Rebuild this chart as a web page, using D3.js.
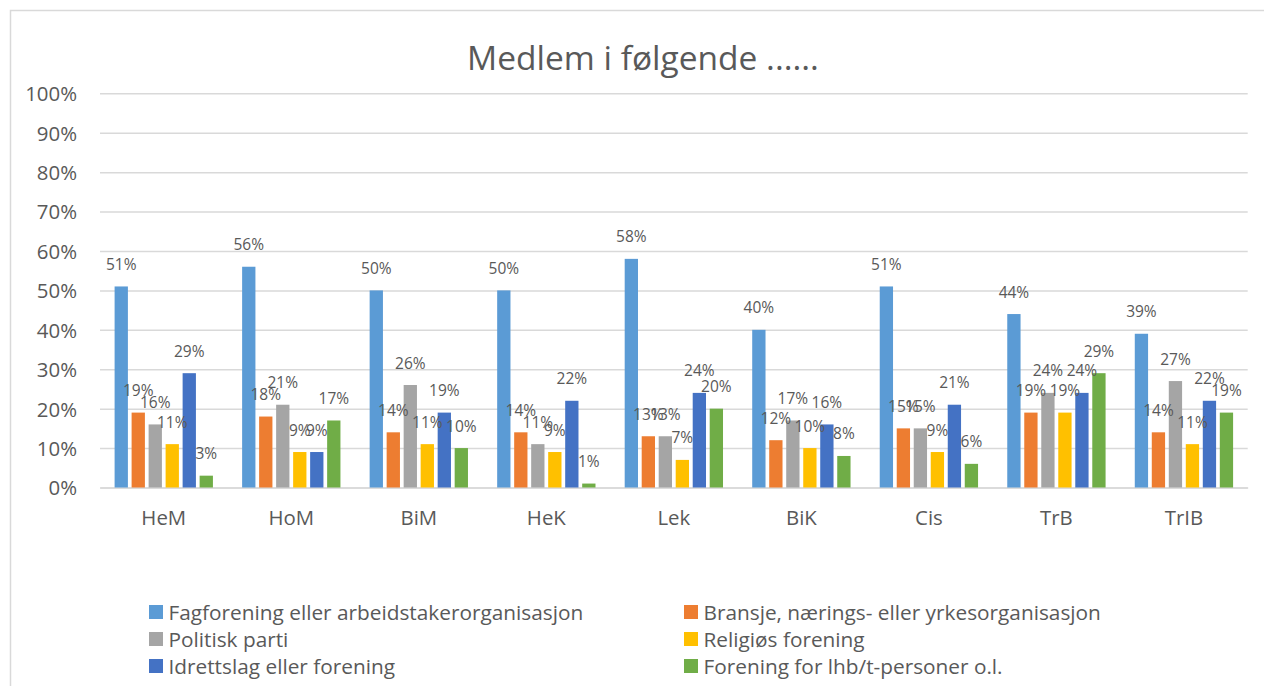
<!DOCTYPE html>
<html>
<head>
<meta charset="utf-8">
<script src="https://cdn.jsdelivr.net/npm/d3@7"></script>
<style>
  html, body { margin: 0; padding: 0; background: #fff; }
  svg { display: block; }
  text { font-family: "Open Sans", "Noto Sans", sans-serif; fill: #595959; }
</style>
</head>
<body>
<svg id="chart" width="1264" height="686"></svg>
<script>
// Grupper (x-akse)
const categories = ["HeM", "HoM", "BiM", "HeK", "Lek", "BiK", "Cis", "TrB", "TrIB"];

// Serier (prosent medlemskap)
const seriesNames = [
  "Fagforening eller arbeidstakerorganisasjon",
  "Bransje, nærings- eller yrkesorganisasjon",
  "Politisk parti",
  "Religiøs forening",
  "Idrettslag eller forening",
  "Forening for lhb/t-personer o.l."
];
const fagforening = [51, 56, 50, 50, 58, 40, 51, 44, 39];
const bransje     = [19, 18, 14, 14, 13, 12, 15, 19, 14];
const politisk    = [16, 21, 26, 11, 13, 17, 15, 24, 27];
const religios    = [11,  9, 11,  9,  7, 10,  9, 19, 11];
const idrett      = [29,  9, 19, 22, 24, 16, 21, 24, 22];
const lhbt        = [ 3, 17, 10,  1, 20,  8,  6, 29, 19];
const seriesValues = [fagforening, bransje, politisk, religios, idrett, lhbt];

const yTicks = [0, 10, 20, 30, 40, 50, 60, 70, 80, 90, 100];
const colors = ["#5B9BD5", "#ED7D31", "#A5A5A5", "#FFC000", "#4472C4", "#70AD47"];

const svg = d3.select("#chart");

// Ramme rundt diagramområdet
svg.append("rect")
  .attr("x", 10.5).attr("y", 10.5)
  .attr("width", 1300).attr("height", 700)
  .attr("fill", "none")
  .attr("stroke", "#d9d9d9")
  .attr("stroke-width", 1.5);

const plot = { left: 100, right: 1247.7, top: 93.3, bottom: 487.5 };

const x0 = d3.scaleBand()
  .domain(categories)
  .range([plot.left, plot.right])
  .paddingInner(0.229)
  .paddingOuter(0.1145);

const x1 = d3.scaleBand()
  .domain(d3.range(seriesNames.length))
  .range([0, x0.bandwidth()])
  .paddingInner(0.218)
  .paddingOuter(0);

const y = d3.scaleLinear().domain([0, 100]).range([plot.bottom, plot.top]);

// Tittel
svg.append("text")
  .attr("x", 643).attr("y", 70)
  .attr("text-anchor", "middle")
  .style("font-size", "33.5px")
  .text("Medlem i følgende ......");

// Rutenett og y-akse
const yAxis = d3.axisLeft(y)
  .tickValues(yTicks)
  .tickSize(-(plot.right - plot.left))
  .tickPadding(23)
  .tickFormat(d => d + "%");

const gy = svg.append("g")
  .attr("transform", `translate(${plot.left},0)`)
  .call(yAxis);
gy.select(".domain").remove();
gy.selectAll(".tick line").attr("stroke", "#d9d9d9").attr("stroke-width", 1.5);
gy.selectAll(".tick text")
  .style("font-size", "20.4px")
  .attr("fill", "#595959")
  .attr("dy", "0.36em");

// x-akse
const xAxis = d3.axisBottom(x0).tickSize(0).tickPadding(0);
const gx = svg.append("g")
  .attr("transform", `translate(0,${plot.bottom})`)
  .call(xAxis);
gx.select(".domain").attr("stroke", "#d9d9d9").attr("stroke-width", 1.5);
gx.selectAll(".tick text")
  .style("font-size", "20.4px")
  .attr("fill", "#595959")
  .attr("dy", null)
  .attr("y", 37.5);

// Søyler
const rows = [];
categories.forEach((c, ci) => {
  seriesValues.forEach((vals, si) => {
    rows.push({ cat: c, s: si, v: vals[ci] });
  });
});

const bars = svg.append("g");
bars.selectAll("rect")
  .data(rows)
  .join("rect")
  .attr("x", d => x0(d.cat) + x1(d.s))
  .attr("y", d => y(d.v))
  .attr("width", x1.bandwidth())
  .attr("height", d => y(0) - y(d.v))
  .attr("fill", d => colors[d.s]);

// Dataetiketter
svg.append("g").selectAll("text")
  .data(rows)
  .join("text")
  .attr("x", d => x0(d.cat) + x1(d.s) + x1.bandwidth() / 2)
  .attr("y", d => y(d.v) - 16.5)
  .attr("text-anchor", "middle")
  .style("font-size", "15.5px")
  .attr("fill", "#404040")
  .text(d => d.v + "%");

// Tegnforklaring
const legendCols = [149, 684];
const legendRows = [612, 639, 666];
const legend = svg.append("g").selectAll("g")
  .data(seriesNames)
  .join("g")
  .attr("transform", (d, i) => `translate(${legendCols[i % 2]},${legendRows[Math.floor(i / 2)]})`);
legend.append("rect")
  .attr("x", 0).attr("y", -7)
  .attr("width", 14).attr("height", 14)
  .attr("fill", (d, i) => colors[i]);
legend.append("text")
  .attr("x", 19.5).attr("y", 0)
  .attr("dy", "0.36em")
  .style("font-size", "20.8px")
  .text(d => d);
</script>
</body>
</html>
